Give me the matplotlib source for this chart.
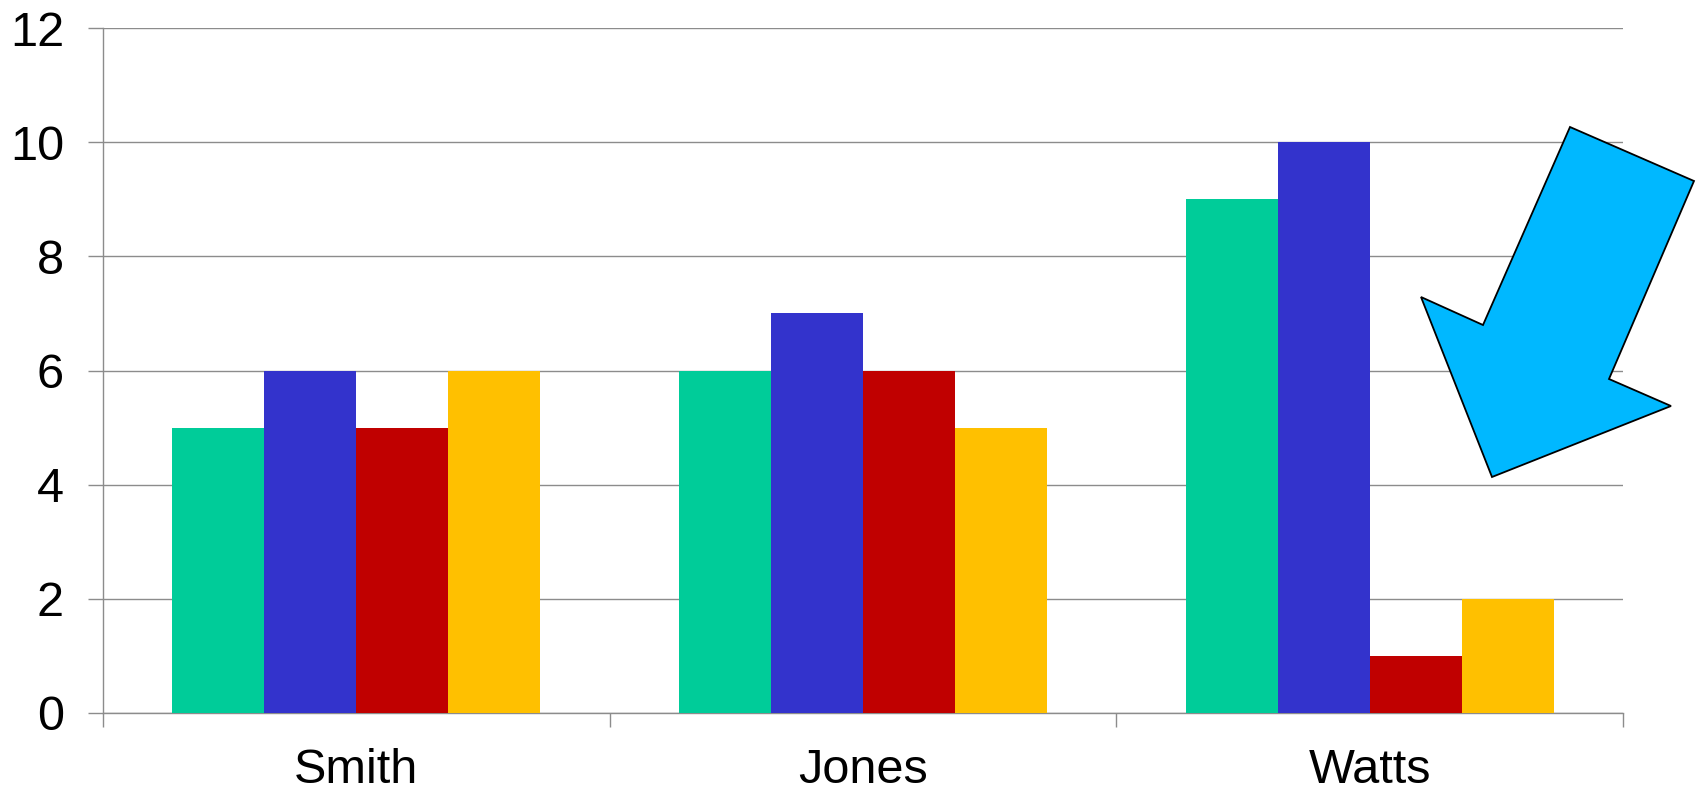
import numpy as np
import matplotlib.pyplot as plt
from matplotlib.patches import Polygon

plt.rcParams['font.family'] = ['Liberation Sans', 'DejaVu Sans']

# categories and the four series
names = ['Smith', 'Jones', 'Watts']
series_a = [5, 6, 9]
series_b = [6, 7, 10]
series_c = [5, 6, 1]
series_d = [6, 5, 2]
colors = ['#00CC99', '#3333CC', '#C00000', '#FFC000']
yticks = [0, 2, 4, 6, 8, 10, 12]

W, H = 1700, 792
fig = plt.figure(figsize=(W / 100, H / 100), dpi=100)
ax = fig.add_axes([103 / W, 1 - 713 / H, 1520 / W, 685 / H])

x = np.arange(len(names))
bw = 0.1815
for i, vals in enumerate([series_a, series_b, series_c, series_d]):
    ax.bar(x + (i - 1.5) * bw, vals, width=bw, color=colors[i], zorder=3)

ax.set_xlim(-0.5, len(names) - 0.5)
ax.set_ylim(0, 12)
ax.set_yticks(yticks)
ax.set_yticklabels([str(t) for t in yticks])

# boundary ticks between categories, labels centred on the categories
ax.set_xticks(np.arange(len(names) + 1) - 0.5)
ax.set_xticklabels([])
ax.set_xticks(x, minor=True)
ax.set_xticklabels(names, minor=True)

grid_c = '#8C8C8C'
ax.grid(axis='y', color=grid_c, linewidth=1.0, zorder=0)
for s in ['top', 'right']:
    ax.spines[s].set_visible(False)
for s in ['left', 'bottom']:
    ax.spines[s].set_color(grid_c)
    ax.spines[s].set_linewidth(1.0)

ax.tick_params(axis='y', length=11, width=1.0, color=grid_c, pad=17, labelsize=35)
ax.tick_params(axis='x', which='major', length=10, width=1.0, color=grid_c)
ax.tick_params(axis='x', which='minor', length=0, pad=25, labelsize=35)

# callout arrow pointing at the Watts bars (figure pixel coords)
arrow_px = [(1570, 127), (1694, 181), (1609, 379), (1671, 406),
            (1492, 477), (1421, 297), (1483, 325)]
arrow = Polygon([(px / W, 1 - py / H) for px, py in arrow_px], closed=True,
                transform=fig.transFigure, facecolor='#00B8FF',
                edgecolor='black', linewidth=1.3, zorder=10)
fig.patches.append(arrow)

fig.savefig('out.png', dpi=100)
